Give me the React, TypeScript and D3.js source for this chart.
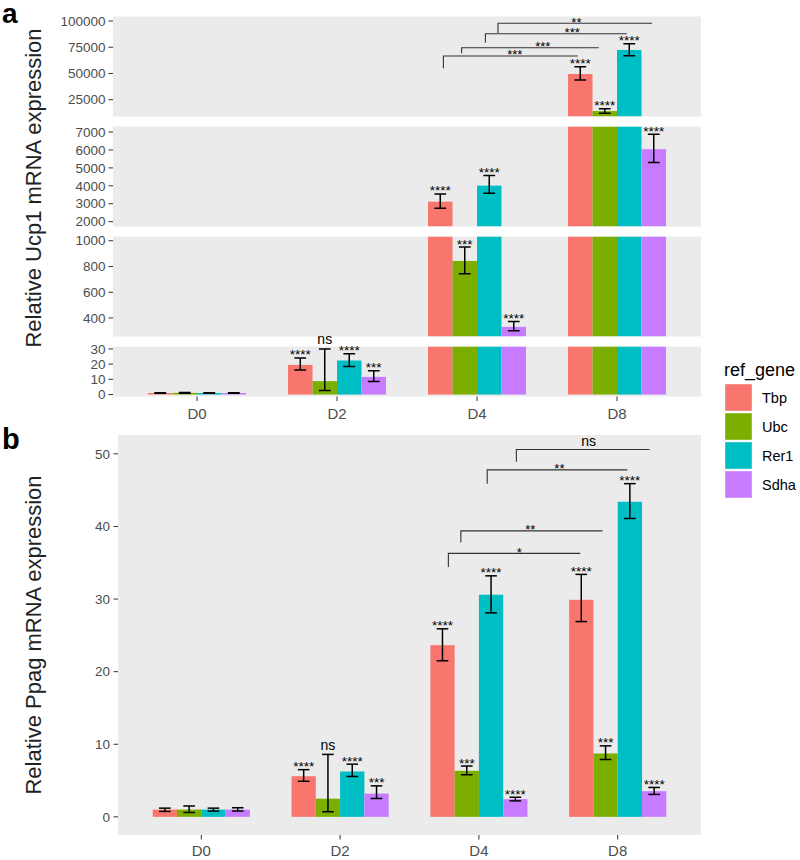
import React from "react";
import * as d3 from "d3";

const categories = ["D0", "D2", "D4", "D8"];
const genes = ["Tbp", "Ubc", "Rer1", "Sdha"];
const geneColors = ["#F8766D", "#7CAE00", "#00BFC4", "#C77CFF"];

// Panel a: Ucp1 (mean, lower, upper, significance) per gene over D0..D8
const ucp1Tbp = [1.0, 19.5, 3117, 49500];
const ucp1TbpLo = [0.8, 16.2, 2750, 43800];
const ucp1TbpHi = [1.2, 24.1, 3550, 56500];
const ucp1TbpSig = ["", "****", "****", "****"];
const ucp1Ubc = [1.1, 8.8, 843, 14200];
const ucp1UbcLo = [0.8, 2.6, 744, 12000];
const ucp1UbcHi = [1.4, 30, 951, 16400];
const ucp1UbcSig = ["", "ns", "***", "****"];
const ucp1Rer1 = [1.0, 22.4, 4010, 72400];
const ucp1Rer1Lo = [0.8, 18.4, 3590, 67000];
const ucp1Rer1Hi = [1.2, 26.8, 4570, 78400];
const ucp1Rer1Sig = ["", "****", "****", "****"];
const ucp1Sdha = [1.0, 11.6, 331, 6045];
const ucp1SdhaLo = [0.8, 8.6, 300, 5300];
const ucp1SdhaHi = [1.2, 15.6, 372, 6880];
const ucp1SdhaSig = ["", "***", "****", "****"];

// Panel a broken axis segments (bottom to top) and ticks
const ucp1SegDomains = [[-1.3, 31.6], [256, 1033], [1730, 7310], [9000, 104300]];
const ucp1SegTicks = [[0, 10, 20, 30], [400, 600, 800, 1000], [2000, 3000, 4000, 5000, 6000, 7000], [25000, 50000, 75000, 100000]];

// Panel a comparison brackets (x in category units, y in data units of top segment)
const ucp1BrX1 = [1.76, 1.89, 2.06, 2.15];
const ucp1BrX2 = [2.72, 2.87, 3.07, 3.25];
const ucp1BrY = [66660, 74570, 87920, 97830];
const ucp1BrTip = [54930, 69230, 79340, 88590];
const ucp1BrLabelX = [2.27, 2.47, 2.68, 2.71];
const ucp1BrLabel = ["***", "***", "***", "**"];

// Panel b: Ppag
const ppagTbp = [1.0, 5.6, 23.65, 29.9];
const ppagTbpLo = [0.75, 4.9, 21.5, 26.9];
const ppagTbpHi = [1.2, 6.5, 25.9, 33.4];
const ppagTbpSig = ["", "****", "****", "****"];
const ppagUbc = [1.0, 2.5, 6.34, 8.73];
const ppagUbcLo = [0.6, 0.7, 5.8, 7.9];
const ppagUbcHi = [1.5, 8.6, 7.0, 9.78];
const ppagUbcSig = ["", "ns", "***", "***"];
const ppagRer1 = [1.0, 6.25, 30.6, 43.4];
const ppagRer1Lo = [0.8, 5.56, 28.1, 41.1];
const ppagRer1Hi = [1.2, 7.26, 33.2, 45.9];
const ppagRer1Sig = ["", "****", "****", "****"];
const ppagSdha = [1.0, 3.2, 2.44, 3.54];
const ppagSdhaLo = [0.8, 2.53, 2.2, 3.09];
const ppagSdhaHi = [1.25, 4.27, 2.7, 4.05];
const ppagSdhaSig = ["", "***", "****", "****"];
const ppagTicks = [0, 10, 20, 30, 40, 50];

const ppagBrX1 = [1.78, 1.87, 2.06, 2.27];
const ppagBrX2 = [2.73, 2.89, 3.07, 3.23];
const ppagBrY = [36.3, 39.4, 47.8, 50.6];
const ppagBrTip = [34.4, 37.8, 45.9, 48.9];
const ppagBrLabelX = [2.29, 2.37, 2.58, 2.79];
const ppagBrLabel = ["*", "**", "**", "ns"];

const FONT = "'Liberation Sans', Arial, Helvetica, sans-serif";

type Rec = { gi: number; di: number; v: number; lo: number; hi: number; sig: string };
function buildRecs(means: number[][], los: number[][], his: number[][], sigs: string[][]): Rec[] {
  const out: Rec[] = [];
  genes.forEach((_, gi) => {
    categories.forEach((_, di) => {
      out.push({ gi, di, v: means[gi][di], lo: los[gi][di], hi: his[gi][di], sig: sigs[gi][di] });
    });
  });
  return out;
}

const ucp1Recs = buildRecs(
  [ucp1Tbp, ucp1Ubc, ucp1Rer1, ucp1Sdha],
  [ucp1TbpLo, ucp1UbcLo, ucp1Rer1Lo, ucp1SdhaLo],
  [ucp1TbpHi, ucp1UbcHi, ucp1Rer1Hi, ucp1SdhaHi],
  [ucp1TbpSig, ucp1UbcSig, ucp1Rer1Sig, ucp1SdhaSig]
);
const ppagRecs = buildRecs(
  [ppagTbp, ppagUbc, ppagRer1, ppagSdha],
  [ppagTbpLo, ppagUbcLo, ppagRer1Lo, ppagSdhaLo],
  [ppagTbpHi, ppagUbcHi, ppagRer1Hi, ppagSdhaHi],
  [ppagTbpSig, ppagUbcSig, ppagRer1Sig, ppagSdhaSig]
);

const subBand = d3.scaleBand<string>().domain(genes).range([-0.35, 0.35]).padding(0);

function barX(xs: d3.ScaleLinear<number, number>, r: Rec) {
  const x0 = xs(r.di + (subBand(genes[r.gi]) as number));
  const x1 = xs(r.di + (subBand(genes[r.gi]) as number) + subBand.bandwidth());
  return { x0, x1, cx: (x0 + x1) / 2, w: x1 - x0 };
}

function labelBaseline(anchor: number, sig: string) {
  return sig === "ns" ? anchor - 4.5 : anchor + 1.5;
}

function ErrorBar({ cx, half, yLo, yHi }: { cx: number; half: number; yLo: number; yHi: number }) {
  return (
    <g stroke="#000" strokeWidth={1.5} fill="none">
      <line x1={cx} x2={cx} y1={yLo} y2={yHi} />
      <line x1={cx - half} x2={cx + half} y1={yLo} y2={yLo} />
      <line x1={cx - half} x2={cx + half} y1={yHi} y2={yHi} />
    </g>
  );
}

function Brackets({ xs, ys, x1, x2, y, tip, lx, labels }: any) {
  return (
    <g>
      {x1.map((_: number, i: number) => {
        const yy = ys(y[i]);
        const sig = labels[i];
        return (
          <g key={i}>
            <path
              d={`M${xs(x1[i])},${ys(tip[i])}V${yy}H${xs(x2[i])}`}
              stroke="#333"
              strokeWidth={1.1}
              fill="none"
            />
            <text x={xs(lx[i])} y={sig === "ns" ? yy - 4 : yy + 3.5} textAnchor="middle" fontSize={sig === "ns" ? 14 : 13} fill="#000">
              {sig}
            </text>
          </g>
        );
      })}
    </g>
  );
}

export default function App() {
  // Panel a
  const xA = d3.scaleLinear().domain([-0.6, 3.6]).range([113, 701]);
  const segRanges = [[396.5, 346.5], [336.5, 236.5], [226.5, 126.5], [116.5, 16.5]];
  const segScales = ucp1SegDomains.map((d, i) => d3.scaleLinear().domain(d).range(segRanges[i]));
  const segOf = (v: number) => {
    for (let s = 0; s < ucp1SegDomains.length; s++) {
      if (v <= ucp1SegDomains[s][1]) return s;
    }
    return ucp1SegDomains.length - 1;
  };

  // Panel b
  const xB = d3.scaleLinear().domain([-0.6, 3.6]).range([118, 701]);
  const yB = d3.scaleLinear().domain([-2.5, 52.6]).range([835, 435]);

  return (
    <svg width={800} height={860} style={{ position: "absolute", left: 0, top: 0, background: "#fff" }} fontFamily={FONT}>
      <defs>
        {segScales.map((sc, s) => (
          <clipPath id={`segclip${s}`} key={s}>
            <rect x={113} y={sc.range()[1]} width={701 - 113} height={sc.range()[0] - sc.range()[1]} />
          </clipPath>
        ))}
        <clipPath id="clipb">
          <rect x={118} y={435} width={701 - 118} height={400} />
        </clipPath>
      </defs>

      {/* Panel labels */}
      <text x={2} y={23} fontSize={28} fontWeight="bold" fill="#000">a</text>
      <text x={2} y={449} fontSize={29} fontWeight="bold" fill="#000">b</text>

      {/* ===== Panel a ===== */}
      <text transform="translate(41,188) rotate(-90)" textAnchor="middle" fontSize={22} fill="#222">
        Relative Ucp1 mRNA expression
      </text>
      {segScales.map((sc, s) => {
        const [bot, top] = sc.range();
        const [dlo, dhi] = ucp1SegDomains[s];
        return (
          <g key={s}>
            <rect x={113} y={top} width={701 - 113} height={bot - top} fill="#EBEBEB" />
            {ucp1SegTicks[s].map((t) => (
              <g key={t}>
                <line x1={108.5} x2={113} y1={sc(t)} y2={sc(t)} stroke="#333" strokeWidth={1} />
                <text x={105.5} y={sc(t)} dy="0.35em" textAnchor="end" fontSize={13.5} fill="#4D4D4D">
                  {t}
                </text>
              </g>
            ))}
            <g clipPath={`url(#segclip${s})`}>
              {ucp1Recs.map((r, k) => {
                const base = s === 0 ? 0 : dlo;
                if (r.v <= base) return null;
                const topV = Math.min(r.v, dhi);
                const { x0, w } = barX(xA, r);
                return <rect key={k} x={x0} y={sc(topV)} width={w} height={sc(base) - sc(topV)} fill={geneColors[r.gi]} />;
              })}
              {ucp1Recs.map((r, k) => {
                if (r.hi < dlo - (dhi - dlo) || r.lo > dhi + (dhi - dlo)) return null;
                const { cx, w } = barX(xA, r);
                return <ErrorBar key={k} cx={cx} half={w * 0.24} yLo={sc(r.lo)} yHi={sc(r.hi)} />;
              })}
            </g>
          </g>
        );
      })}
      {ucp1Recs.map((r, k) => {
        if (!r.sig) return null;
        const sc = segScales[segOf(r.hi)];
        const { cx } = barX(xA, r);
        return (
          <text key={k} x={cx} y={labelBaseline(sc(r.hi), r.sig)} textAnchor="middle" fontSize={r.sig === "ns" ? 14 : 13.5} fill="#000">
            {r.sig}
          </text>
        );
      })}
      <Brackets xs={xA} ys={segScales[3]} x1={ucp1BrX1} x2={ucp1BrX2} y={ucp1BrY} tip={ucp1BrTip} lx={ucp1BrLabelX} labels={ucp1BrLabel} />
      {categories.map((c, i) => (
        <g key={c}>
          <line x1={xA(i)} x2={xA(i)} y1={396.5} y2={401} stroke="#333" strokeWidth={1} />
          <text x={xA(i)} y={419} textAnchor="middle" fontSize={15} fill="#4D4D4D">{c}</text>
        </g>
      ))}

      {/* ===== Panel b ===== */}
      <text transform="translate(41,635) rotate(-90)" textAnchor="middle" fontSize={22} fill="#222">
        Relative Ppag mRNA expression
      </text>
      <rect x={118} y={435} width={701 - 118} height={400} fill="#EBEBEB" />
      {ppagTicks.map((t) => (
        <g key={t}>
          <line x1={113.5} x2={118} y1={yB(t)} y2={yB(t)} stroke="#333" strokeWidth={1} />
          <text x={110} y={yB(t)} dy="0.35em" textAnchor="end" fontSize={13.5} fill="#4D4D4D">{t}</text>
        </g>
      ))}
      <g clipPath="url(#clipb)">
        {ppagRecs.map((r, k) => {
          const { x0, w } = barX(xB, r);
          return <rect key={k} x={x0} y={yB(r.v)} width={w} height={yB(0) - yB(r.v)} fill={geneColors[r.gi]} />;
        })}
        {ppagRecs.map((r, k) => {
          const { cx, w } = barX(xB, r);
          return <ErrorBar key={k} cx={cx} half={w * 0.24} yLo={yB(r.lo)} yHi={yB(r.hi)} />;
        })}
      </g>
      {ppagRecs.map((r, k) => {
        if (!r.sig) return null;
        const { cx } = barX(xB, r);
        return (
          <text key={k} x={cx} y={labelBaseline(yB(r.hi), r.sig)} textAnchor="middle" fontSize={r.sig === "ns" ? 14 : 13.5} fill="#000">
            {r.sig}
          </text>
        );
      })}
      <Brackets xs={xB} ys={yB} x1={ppagBrX1} x2={ppagBrX2} y={ppagBrY} tip={ppagBrTip} lx={ppagBrLabelX} labels={ppagBrLabel} />
      {categories.map((c, i) => (
        <g key={c}>
          <line x1={xB(i)} x2={xB(i)} y1={835} y2={839.5} stroke="#333" strokeWidth={1} />
          <text x={xB(i)} y={856} textAnchor="middle" fontSize={15} fill="#4D4D4D">{c}</text>
        </g>
      ))}

      {/* ===== Legend ===== */}
      <text x={724} y={376} fontSize={18} fill="#000">ref_gene</text>
      {genes.map((g, i) => (
        <g key={g}>
          <rect x={725} y={384 + i * 29} width={27} height={27} fill={geneColors[i]} stroke="#fff" strokeOpacity={0.4} strokeWidth={1} />
          <text x={762} y={384 + i * 29 + 13.5} dy="0.35em" fontSize={14.5} fill="#000">{g}</text>
        </g>
      ))}
    </svg>
  );
}
